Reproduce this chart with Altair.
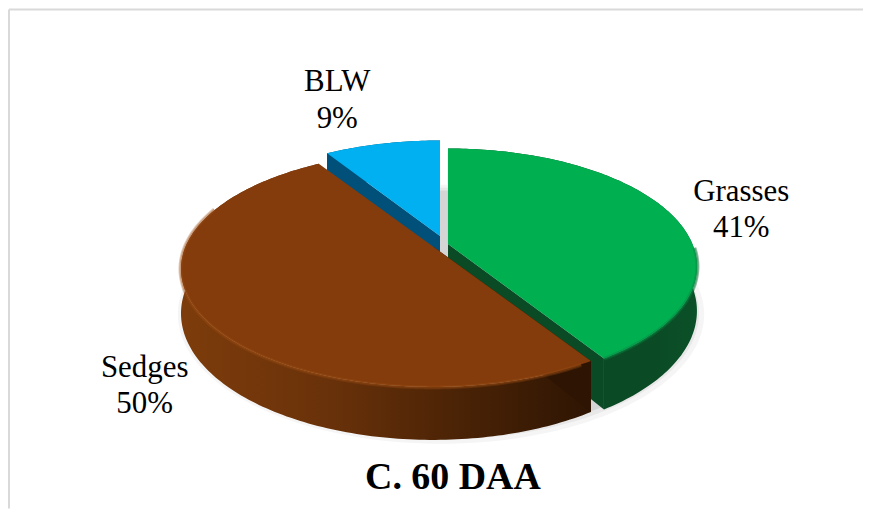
import math
import altair as alt
import pandas as pd

# Values
names = ["Grasses", "Sedges", "BLW"]
shares = [41, 50, 9]
top_colors = ["#00b050", "#843c0c", "#00b0f0"]
wall_colors = ["#0a4a24", "#5a2a07", "#00507a"]
label_x = [742, 144, 337]
label_name_y = [191, 367, 81]
label_pct_y = [227, 403, 118]
title_text = "C. 60 DAA"

# Projection of the tilted 3-D pie
apex_x = [448, 433, 440]
apex_y = [243, 245.5, 235]
A = [245, 248, 245]
B, P, DEPTH = 114, 0.19, 43

def project(i, deg, dz=0.0):
    t = math.radians(deg)
    k = 1 / (1 + P * math.cos(t))
    return (apex_x[i] + A[i] * math.sin(t) * k, apex_y[i] - B * math.cos(t) * k + dz * k)

def arc_deg(a, b):
    n = max(2, int(abs(b - a)))
    return [a + (b - a) * j / n for j in range(n + 1)]

starts = []
acc = 0
for s in shares:
    starts.append(acc)
    acc += s

def frame(pts):
    return pd.DataFrame({"x": [p[0] for p in pts], "y": [p[1] for p in pts], "i": range(len(pts))})

def top_poly(i):
    a, b = starts[i] * 3.6, (starts[i] + shares[i]) * 3.6
    return frame([(apex_x[i], apex_y[i])] + [project(i, d) for d in arc_deg(a, b)] + [(apex_x[i], apex_y[i])])

def rim(i, a, b):
    return frame([project(i, d) for d in arc_deg(a, b)])

def wall_poly(i):
    a, b = starts[i] * 3.6, (starts[i] + shares[i]) * 3.6
    ds = arc_deg(a, b)
    return frame([project(i, d) for d in ds] + [project(i, d, DEPTH) for d in reversed(ds)])

def face_poly(i, deg):
    p, q = project(i, deg), project(i, deg, DEPTH)
    return frame([(apex_x[i], apex_y[i]), p, q, (apex_x[i], apex_y[i] + DEPTH * 0.95)])

X = alt.X("x:Q", scale=alt.Scale(domain=[8, 864]), axis=None)
Y = alt.Y("y:Q", scale=alt.Scale(domain=[508, 8]), axis=None)

def poly(df, fill, **kw):
    return alt.Chart(df).mark_line(fill=fill, stroke=None, strokeWidth=0, **kw).encode(X, Y, order="i:Q")

def stroke_line(df, color, width, op):
    return alt.Chart(df).mark_line(stroke=color, strokeWidth=width, opacity=op).encode(X, Y, order="i:Q")

def grad(stops):
    return alt.Gradient(gradient="linear", x1=0, x2=1, y1=0, y2=0,
                        stops=[alt.GradientStop(offset=o, color=c) for o, c in stops])

layers = []

# soft floor shadow
for grow, op in [(16, 0.04), (11, 0.05), (6, 0.08)]:
    pts = [(441 + (243 + grow) * math.sin(math.radians(d)) / (1 + P * math.cos(math.radians(d))),
            250 + DEPTH * 0.9 - (B + grow * 0.7) * math.cos(math.radians(d)) / (1 + P * math.cos(math.radians(d))))
           for d in range(0, 361, 2)]
    layers.append(poly(frame(pts), "#000000", opacity=op))

# BLW
layers.append(poly(face_poly(2, starts[2] * 3.6), wall_colors[2]))
layers.append(poly(wall_poly(2), wall_colors[2]))
layers.append(poly(top_poly(2), top_colors[2]))

# Grasses
layers.append(poly(face_poly(0, 147.6), wall_colors[0]))
layers.append(poly(wall_poly(0), grad([(0, "#0a4a24"), (0.8, "#0a4a24"), (1, "#0b5028")])))
layers.append(stroke_line(rim(0, 92, 147.6), "#0a6a34", 5, 0.45))
layers.append(poly(top_poly(0), top_colors[0]))
layers.append(stroke_line(rim(0, 92, 147.6), "#058a42", 3, 0.45))

# Sedges
layers.append(poly(wall_poly(1), grad([(0, "#7d3c0b"), (0.35, "#6a320a"), (0.65, "#4d2406"), (1, "#2e1503")])))
layers.append(poly(face_poly(1, 147.6), "#2e1503"))
layers.append(stroke_line(rim(1, 150, 290), "#9a4c14", 5, 0.3))
layers.append(poly(top_poly(1), top_colors[1]))
layers.append(stroke_line(rim(1, 150, 290), "#9a4c14", 3, 0.35))

# frame
layers.append(alt.Chart(pd.DataFrame({"x": [8], "x2": [864], "y": [8]})).mark_rule(color="#d9d9d9", strokeWidth=2)
              .encode(X, x2="x2:Q", y=Y))
layers.append(alt.Chart(pd.DataFrame({"y": [8], "y2": [508], "x": [8]})).mark_rule(color="#d9d9d9", strokeWidth=2)
              .encode(X, y=Y, y2="y2:Q"))

# labels
lab = pd.DataFrame({
    "x": label_x + label_x,
    "y": label_name_y + label_pct_y,
    "t": names + [f"{s}%" for s in shares],
})
layers.append(alt.Chart(lab).mark_text(font="Liberation Serif", fontSize=31, color="#000000", align="center", baseline="middle")
              .encode(X, Y, text="t:N"))
layers.append(alt.Chart(pd.DataFrame({"x": [453], "y": [478], "t": [title_text]}))
              .mark_text(font="Liberation Serif", fontSize=38, fontWeight="bold", color="#000000", align="center", baseline="middle")
              .encode(X, Y, text="t:N"))

chart = alt.layer(*layers).properties(width=856, height=500, padding=0, background="#ffffff").configure_view(stroke=None)
chart.save("out.html", embed_options={"renderer": "svg", "actions": False})
